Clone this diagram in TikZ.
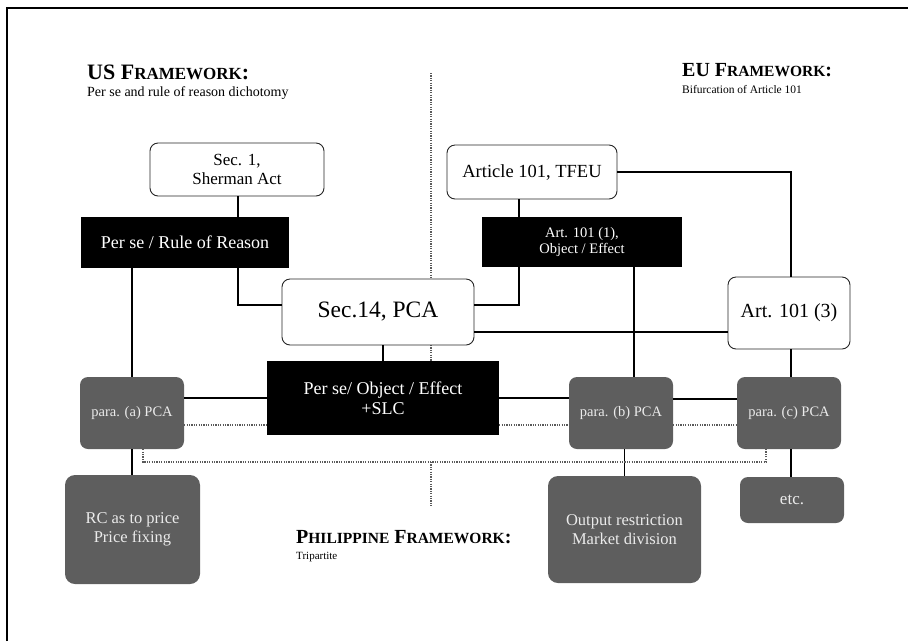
\documentclass[tikz,border=0pt]{standalone}
\usepackage{fontspec}
\setmainfont{Liberation Serif}
\usepackage{tikz}
\usetikzlibrary{calc}

\definecolor{boxgray}{HTML}{5E5E5E}
\definecolor{dotgray}{HTML}{5A5A5A}
\newcommand{\fsz}[2]{\fontsize{#1}{#2}\selectfont}

\tikzset{
  whitebox/.style={draw=black!85, line width=0.9pt, fill=white,
    rounded corners=8pt, inner sep=0pt, align=center},
  blackbox/.style={fill=black, text=white, inner sep=0pt, align=center},
  graybox/.style={fill=boxgray, text=white!92!black, rounded corners=8pt,
    inner sep=0pt, align=center},
  link/.style={line width=1.7pt},
  dotline/.style={dotgray, line width=1.5pt, dash pattern=on 1.2pt off 1.2pt},
}

\begin{document}
\begin{tikzpicture}[x=1pt, y=-1pt]
    \useasboundingbox (0,0) rectangle (908,641);
    \draw[line width=1.6pt] (7,641) -- (7,8) -- (908,8);

    % the three headings
    \node[anchor=base west, inner sep=0pt, font=\fsz{22}{24}\bfseries] (ustitle) at (87,79)
    {US F{\fsz{17}{20}RAMEWORK}:};
    \node[anchor=base west, inner sep=0pt, font=\fsz{14}{16}] (ussub) at (87,96.5)
    {Per se and rule of reason dichotomy};
    \node[anchor=base west, inner sep=0pt, font=\fsz{20}{22}\bfseries] (eutitle) at (682,76)
    {EU F{\fsz{15.5}{18}RAMEWORK}:};
    \node[anchor=base west, inner sep=0pt, font=\fsz{11.5}{13}] (eusub) at (682,93)
    {Bifurcation of Article 101};
    \node[anchor=base west, inner sep=0pt, font=\fsz{20}{22}\bfseries] (phtitle) at (296,543)
    {P{\fsz{15.5}{18}HILIPPINE} F{\fsz{15.5}{18}RAMEWORK}:};
    \node[anchor=base west, inner sep=0pt, font=\fsz{11}{13}] (phsub) at (296,559)
    {Tripartite};

    % dotted divider
    \draw[dotline] (431,73) -- (431,279);
    \draw[dotline] (431,345) -- (431,361);
    \draw[dotline] (431,462) -- (431,507);

    % boxes
    \node[whitebox, minimum width=174, minimum height=53, font=\fsz{17}{19}] (sec1) at (237,169.5)
    {Sec. 1,\\Sherman Act};
    \node[blackbox, minimum width=208, minimum height=51, font=\fsz{18}{20}] (perse) at (185,242.5)
    {Per se / Rule of Reason};
    \node[whitebox, minimum width=170, minimum height=54, font=\fsz{18.5}{20}] (art101) at (532,172)
    {Article 101, TFEU};
    \node[blackbox, minimum width=200, minimum height=50, font=\fsz{14.5}{16.7}] (art1) at (582,242)
    {Art. 101 (1),\\Object / Effect};
    \node[whitebox, minimum width=192, minimum height=66, font=\fsz{23.5}{26}] (sec14) at (378,312)
    {Sec.14, PCA};
    \node[whitebox, minimum width=122, minimum height=72, font=\fsz{20}{22}] (art3) at (789,313)
    {Art. 101 (3)};
    \node[blackbox, minimum width=232, minimum height=74, font=\fsz{18}{20}] (psobj) at (383,398)
    {Per se/ Object / Effect\\+SLC};
    \node[graybox, minimum width=104, minimum height=72, font=\fsz{14.5}{16}] (paraA) at (132,413)
    {para. (a) PCA};
    \node[graybox, minimum width=104, minimum height=72, font=\fsz{14.5}{16}] (paraB) at (621,413)
    {para. (b) PCA};
    \node[graybox, minimum width=104, minimum height=72, font=\fsz{14.5}{16}] (paraC) at (789,413)
    {para. (c) PCA};
    \node[graybox, rounded corners=10pt, minimum width=135, minimum height=109, font=\fsz{16.5}{18.5}] (rc) at (132.5,529.5)
    {RC as to price\\Price fixing};
    \node[graybox, rounded corners=10pt, minimum width=153, minimum height=107, font=\fsz{16.5}{18.5}] (output) at (624.5,529.5)
    {Output restriction\\Market division};
    \node[graybox, minimum width=104, minimum height=46, font=\fsz{17}{19}] (etc) at (792,500)
    {etc.};

    % solid connectors
    \draw[link] ([xshift=1]sec1.south) -- ([xshift=1]sec1.south |- perse.north);
    \draw[link] (paraA.north |- perse.south) -- (paraA.north);
    \draw[link] ([xshift=1]sec1.south |- perse.south) |- ([yshift=7]sec14.west);
    \draw[link] ([xshift=-13]art101.south) -- ([xshift=-13]art101.south |- art1.north);
    \draw[link] (art101.east) -| ([xshift=2]art3.north);
    \draw[link] ([xshift=-13]art101.south |- art1.south) |- ([yshift=7]sec14.east);
    \draw[link] ([xshift=13]paraB.north |- art1.south) -- ([xshift=13]paraB.north);
    \draw[link] ([yshift=-20]sec14.east) -- ([yshift=-20]sec14.east -| art3.west);
    \draw[link] (psobj.north |- sec14.south) -- (psobj.north);
    \draw[link] (psobj.west -| paraA.east) -- (psobj.west);
    \draw[link] (psobj.east) -- (psobj.east -| paraB.west);
    \draw[link] ([yshift=14]paraB.east) -- ([yshift=14]paraC.west);
    \draw[link] ([xshift=2]art3.south) -- ([xshift=2]paraC.north);
    \draw[link] ([xshift=2]paraC.south) -- ([xshift=2]paraC.south |- etc.north);
    \draw[link] (paraA.south) -- (paraA.south |- rc.north);
    \draw[link] (output.north |- paraB.south) -- (output.north);

    % dotted connectors
    \draw[dotline] ([yshift=-12]paraA.east) -- ([yshift=-12]paraA.east -| psobj.west);
    \draw[dotline] ([yshift=-12]paraB.west -| psobj.east) -- ([yshift=-12]paraB.west);
    \draw[dotline] ([yshift=-12]paraB.east) -- ([yshift=-12]paraC.west);
    \draw[dotline] ([xshift=11]paraA.south) -- ++(0,13) -| ([xshift=-23]paraC.south);
\end{tikzpicture}
\end{document}
